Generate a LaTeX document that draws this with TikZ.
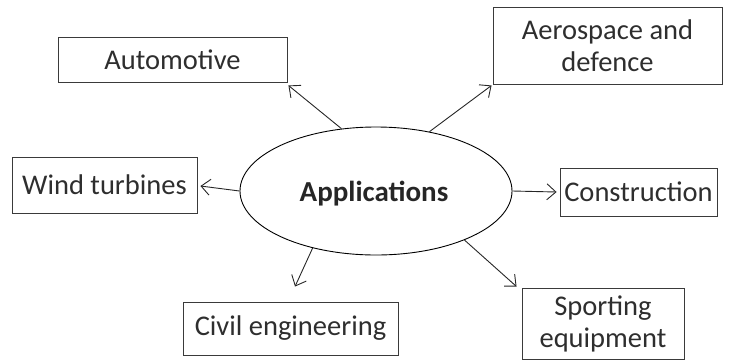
\documentclass[tikz,border=0pt]{standalone}
\usepackage{fontspec}
\setmainfont{Carlito}
\usetikzlibrary{arrows.meta,shapes.geometric}
\definecolor{txt}{HTML}{2E2E2E}
\definecolor{edge}{HTML}{3A3A3A}
\tikzset{
  box/.style={draw=edge, line width=0.9pt, rectangle, inner sep=0pt, align=center,
    text=txt, font=\fontsize{28.5}{32}\selectfont},
  hub/.style={draw=black, line width=0.9pt, ellipse, inner sep=0pt,
    text=black!85, font=\fontsize{29}{32}\selectfont\bfseries},
  link/.style={draw=black!85, line width=0.9pt, -{Straight Barb[length=9pt,width=16pt,line width=0.9pt]}}
}
\begin{document}
\begin{tikzpicture}[x=1pt,y=-1pt]
\useasboundingbox (0,0) rectangle (729,360);
\node[hub, minimum width=272pt, minimum height=128pt] (app) at (376,191) {};
\node[text=black!85, font=\fontsize{29}{32}\selectfont\bfseries, inner sep=0pt] (applbl) at (374,194) {Applications};
\node[box, minimum width=229pt, minimum height=45pt] (auto) at (172.5,59.5) {Automotive};
\node[box, minimum width=229pt, minimum height=77pt] (aero) at (607.5,45.5) {Aerospace and\\defence};
\node[box, minimum width=185pt, minimum height=56pt] (wind) at (104.5,185) {Wind turbines};
\node[box, minimum width=157pt, minimum height=48pt] (cons) at (638.5,192) {Construction};
\node[box, minimum width=215pt, minimum height=53pt] (civil) at (290.5,328.5) {Civil engineering};
\node[box, minimum width=162pt, minimum height=71pt] (sport) at (603,323.5) {Sporting\\equipment};
\draw[link] (app.119) -- ([xshift=1pt,yshift=-3pt]auto.south east);
\draw[link] (app.48.5) -- ([xshift=-1pt,yshift=-1pt]aero.south west);
\draw[link] (app.west) -- ([xshift=3pt,yshift=-1pt]wind.east);
\draw[link] (app.0) -- ([xshift=-3pt]cons.west);
\draw[link] (app.222) -- ([xshift=4.5pt,yshift=15pt]civil.north);
\draw[link] (app.331) -- ([xshift=-5pt,yshift=1pt]sport.north west);
\end{tikzpicture}
\end{document}
